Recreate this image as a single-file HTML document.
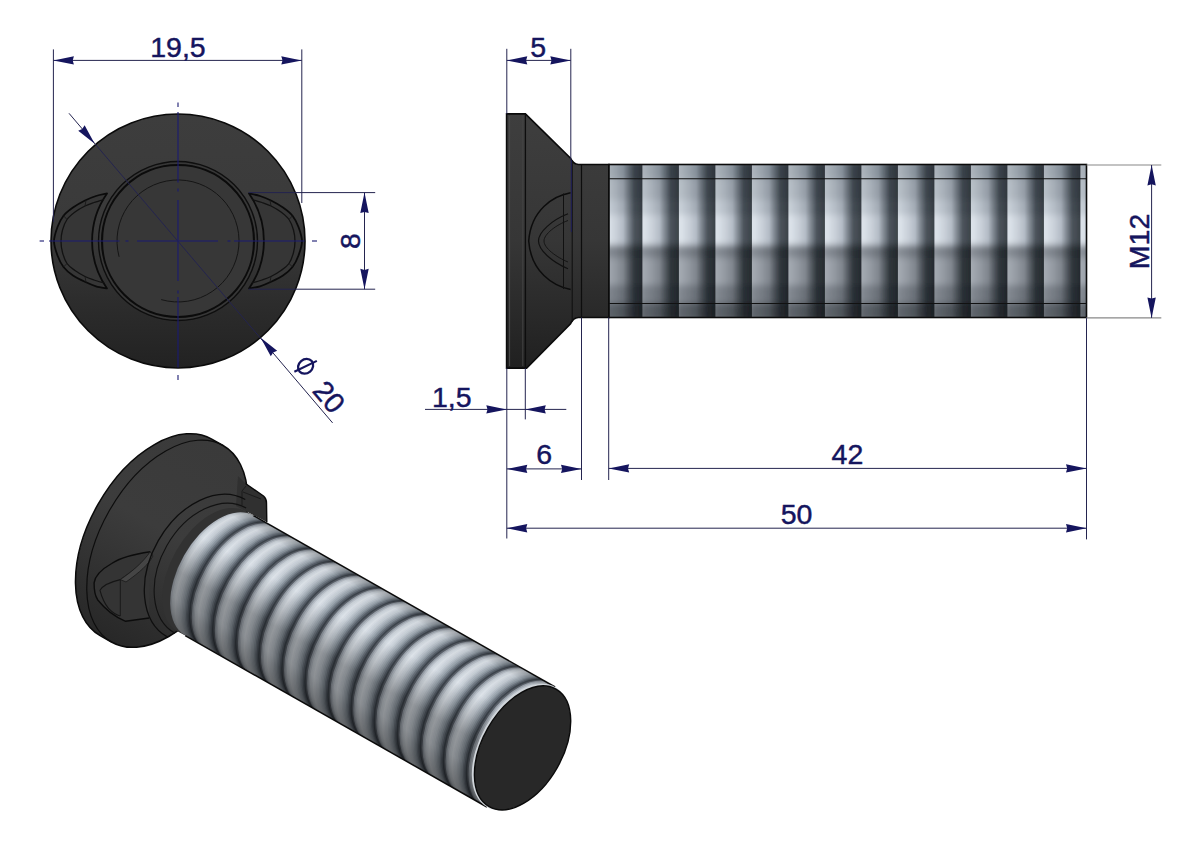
<!DOCTYPE html>
<html><head><meta charset="utf-8"><style>
html,body{margin:0;padding:0;background:#fff;}
svg{display:block;}
text{font-family:"Liberation Sans",sans-serif;}
</style></head><body>
<svg width="1191" height="842" viewBox="0 0 1191 842">
<rect width="1191" height="842" fill="#fff"/>
<defs>
<linearGradient id="headg" x1="0" y1="0" x2="0" y2="1">
 <stop offset="0" stop-color="#3d3d3d"/><stop offset="0.45" stop-color="#3a3a3a"/>
 <stop offset="0.75" stop-color="#2c2c2c"/><stop offset="1" stop-color="#222"/></linearGradient>
<linearGradient id="sideheadg" x1="0" y1="0" x2="0" y2="1">
 <stop offset="0" stop-color="#3e3e3e"/><stop offset="0.5" stop-color="#363636"/>
 <stop offset="1" stop-color="#202020"/></linearGradient>
<linearGradient id="neckg" x1="0" y1="0" x2="0" y2="1">
 <stop offset="0" stop-color="#3c3c3c"/><stop offset="0.55" stop-color="#3a3a3a"/>
 <stop offset="1" stop-color="#1e1e1e"/></linearGradient>
</defs>
<circle cx="178" cy="241" r="127" fill="url(#headg)" stroke="#0a0a0a" stroke-width="1.6"/>
<path d="M107.00,193.50 C105.17,193.92 99.67,194.83 96.00,196.00 C92.33,197.17 88.83,198.58 85.00,200.50 C81.17,202.42 76.58,204.97 73.00,207.50 C69.42,210.03 66.08,212.45 63.50,215.70 C60.92,218.95 59.08,222.73 57.50,227.00 C55.92,231.27 54.00,236.55 54.00,241.30 C54.00,246.05 55.92,251.22 57.50,255.50 C59.08,259.78 60.92,263.67 63.50,267.00 C66.08,270.33 69.25,272.95 73.00,275.50 C76.75,278.05 82.17,280.50 86.00,282.30 C89.83,284.10 92.50,285.28 96.00,286.30 C99.50,287.32 105.17,288.05 107.00,288.40 A83,83 0 0,1 107.00,193.50 Z" fill="#363636" stroke="#0b0b0b" stroke-width="1.8" stroke-linejoin="round"/>
<path d="M104.00,199.50 C102.33,200.00 97.17,201.42 94.00,202.50 C90.83,203.58 88.17,204.42 85.00,206.00 C81.83,207.58 78.00,209.75 75.00,212.00 C72.00,214.25 69.08,216.50 67.00,219.50 C64.92,222.50 63.50,226.37 62.50,230.00 C61.50,233.63 61.00,237.55 61.00,241.30 C61.00,245.05 61.50,248.80 62.50,252.50 C63.50,256.20 64.92,260.50 67.00,263.50 C69.08,266.50 72.00,268.33 75.00,270.50 C78.00,272.67 81.83,274.92 85.00,276.50 C88.17,278.08 90.83,278.92 94.00,280.00 C97.17,281.08 102.33,282.50 104.00,283.00" fill="none" stroke="#121212" stroke-width="1.3"/>
<line x1="86.00" y1="200.30" x2="85.00" y2="206.00" stroke="#1a1a1a" stroke-width="0.9"/>
<line x1="63.50" y1="215.70" x2="67.00" y2="219.50" stroke="#1a1a1a" stroke-width="0.9"/>
<line x1="63.50" y1="267.00" x2="67.00" y2="263.50" stroke="#1a1a1a" stroke-width="0.9"/>
<line x1="86.00" y1="282.30" x2="85.00" y2="276.50" stroke="#1a1a1a" stroke-width="0.9"/>
<path d="M249.00,193.50 C250.83,193.92 256.33,194.83 260.00,196.00 C263.67,197.17 267.17,198.58 271.00,200.50 C274.83,202.42 279.42,204.97 283.00,207.50 C286.58,210.03 289.92,212.45 292.50,215.70 C295.08,218.95 296.92,222.73 298.50,227.00 C300.08,231.27 302.00,236.55 302.00,241.30 C302.00,246.05 300.08,251.22 298.50,255.50 C296.92,259.78 295.08,263.67 292.50,267.00 C289.92,270.33 286.75,272.95 283.00,275.50 C279.25,278.05 273.83,280.50 270.00,282.30 C266.17,284.10 263.50,285.28 260.00,286.30 C256.50,287.32 250.83,288.05 249.00,288.40 A83,83 0 0,0 249.00,193.50 Z" fill="#363636" stroke="#0b0b0b" stroke-width="1.8" stroke-linejoin="round"/>
<path d="M252.00,199.50 C253.67,200.00 258.83,201.42 262.00,202.50 C265.17,203.58 267.83,204.42 271.00,206.00 C274.17,207.58 278.00,209.75 281.00,212.00 C284.00,214.25 286.92,216.50 289.00,219.50 C291.08,222.50 292.50,226.37 293.50,230.00 C294.50,233.63 295.00,237.55 295.00,241.30 C295.00,245.05 294.50,248.80 293.50,252.50 C292.50,256.20 291.08,260.50 289.00,263.50 C286.92,266.50 284.00,268.33 281.00,270.50 C278.00,272.67 274.17,274.92 271.00,276.50 C267.83,278.08 265.17,278.92 262.00,280.00 C258.83,281.08 253.67,282.50 252.00,283.00" fill="none" stroke="#121212" stroke-width="1.3"/>
<line x1="270.00" y1="200.30" x2="271.00" y2="206.00" stroke="#1a1a1a" stroke-width="0.9"/>
<line x1="292.50" y1="215.70" x2="289.00" y2="219.50" stroke="#1a1a1a" stroke-width="0.9"/>
<line x1="292.50" y1="267.00" x2="289.00" y2="263.50" stroke="#1a1a1a" stroke-width="0.9"/>
<line x1="270.00" y1="282.30" x2="271.00" y2="276.50" stroke="#1a1a1a" stroke-width="0.9"/>
<circle cx="178" cy="241" r="79.5" fill="#373737" stroke="#0e0e0e" stroke-width="1.4"/>
<circle cx="178" cy="241" r="76" fill="none" stroke="#0b0b0b" stroke-width="2.1"/>
<path d="M119.1,256.8 A61,61 0 1,1 161.2,299.6" fill="none" stroke="#151515" stroke-width="1"/>
<line x1="39.60" y1="241.00" x2="44.00" y2="241.00" stroke="#1b1b72" stroke-width="1.10" />
<line x1="178.00" y1="102.60" x2="178.00" y2="107.00" stroke="#1b1b72" stroke-width="1.10" />
<line x1="49.00" y1="241.00" x2="119.50" y2="241.00" stroke="#1b1b72" stroke-width="1.10" />
<line x1="178.00" y1="112.00" x2="178.00" y2="182.50" stroke="#1b1b72" stroke-width="1.10" />
<line x1="125.50" y1="241.00" x2="128.50" y2="241.00" stroke="#1b1b72" stroke-width="1.10" />
<line x1="178.00" y1="188.50" x2="178.00" y2="191.50" stroke="#1b1b72" stroke-width="1.10" />
<line x1="137.00" y1="241.00" x2="218.00" y2="241.00" stroke="#1b1b72" stroke-width="1.10" />
<line x1="178.00" y1="200.00" x2="178.00" y2="281.00" stroke="#1b1b72" stroke-width="1.10" />
<line x1="227.50" y1="241.00" x2="230.50" y2="241.00" stroke="#1b1b72" stroke-width="1.10" />
<line x1="178.00" y1="290.50" x2="178.00" y2="293.50" stroke="#1b1b72" stroke-width="1.10" />
<line x1="234.00" y1="241.00" x2="304.50" y2="241.00" stroke="#1b1b72" stroke-width="1.10" />
<line x1="178.00" y1="297.00" x2="178.00" y2="367.50" stroke="#1b1b72" stroke-width="1.10" />
<line x1="312.00" y1="241.00" x2="317.00" y2="241.00" stroke="#1b1b72" stroke-width="1.10" />
<line x1="178.00" y1="375.00" x2="178.00" y2="380.00" stroke="#1b1b72" stroke-width="1.10" />
<line x1="53.40" y1="49.40" x2="53.40" y2="222.00" stroke="#24244f" stroke-width="1.00" />
<line x1="301.80" y1="49.40" x2="301.80" y2="203.00" stroke="#24244f" stroke-width="1.00" />
<line x1="53.40" y1="60.40" x2="301.80" y2="60.40" stroke="#24244f" stroke-width="1.00" />
<polygon points="53.40,60.40 73.90,56.20 72.70,60.40 73.90,64.60" fill="#15155e"/>
<polygon points="301.80,60.40 281.30,64.60 282.50,60.40 281.30,56.20" fill="#15155e"/>
<text x="178.00" y="56.50" font-size="28.5" text-anchor="middle" fill="#15155e" stroke="#15155e" stroke-width="0.45">19,5</text>
<line x1="248.70" y1="192.60" x2="375.20" y2="192.60" stroke="#24244f" stroke-width="1.00" />
<line x1="248.70" y1="289.20" x2="375.20" y2="289.20" stroke="#24244f" stroke-width="1.00" />
<line x1="364.50" y1="192.60" x2="364.50" y2="289.20" stroke="#24244f" stroke-width="1.00" />
<polygon points="364.50,192.60 368.70,213.10 364.50,211.90 360.30,213.10" fill="#15155e"/>
<polygon points="364.50,289.20 360.30,268.70 364.50,269.90 368.70,268.70" fill="#15155e"/>
<text x="359.60" y="241.00" font-size="28.5" text-anchor="middle" fill="#15155e" stroke="#15155e" stroke-width="0.45" transform="rotate(-90.00 359.60 241.00)">8</text>
<line x1="69.00" y1="113.30" x2="332.60" y2="422.90" stroke="#24244f" stroke-width="1.00" />
<polygon points="94.70,143.70 78.22,130.81 82.19,129.00 84.61,125.37" fill="#15155e"/>
<polygon points="260.70,337.80 277.18,350.69 273.21,352.50 270.79,356.13" fill="#15155e"/>
<path d="M506.6,113.9 L525.4,113.9 L570.3,157.9 Q573.5,164.5 578.4,164.5 L609,164.5 L609,317.5 L578.4,317.5 Q573.5,317.5 570.3,324.1 L526.6,368.1 L506.6,368.1 Z" fill="url(#sideheadg)" stroke="#0a0a0a" stroke-width="1.6"/>
<line x1="509.60" y1="116.00" x2="509.60" y2="366.00" stroke="#4a4a4a" stroke-width="1.00" />
<line x1="522.80" y1="116.00" x2="522.80" y2="366.00" stroke="#444444" stroke-width="1.00" />
<line x1="525.40" y1="113.90" x2="525.40" y2="368.10" stroke="#0d0d0d" stroke-width="1.30" />
<line x1="572.20" y1="160.00" x2="572.20" y2="322.00" stroke="#111" stroke-width="1.10" />
<line x1="581.50" y1="164.50" x2="581.50" y2="317.50" stroke="#0d0d0d" stroke-width="1.20" />
<path d="M570.6,192.8 C553,196 531,210 528.7,241 C531,272 553,286 570.6,289.6" fill="none" stroke="#0c0c0c" stroke-width="1.5"/>
<path d="M568,213.8 C552,220 538.5,232 538.5,241 C538.5,250 552,262 568,268.7" fill="none" stroke="#111" stroke-width="1.2"/>
<path d="M568,220.5 C556,225 544,234 544,241 C544,248 556,257 568,262" fill="none" stroke="#151515" stroke-width="1"/>
<line x1="563.50" y1="193.50" x2="563.50" y2="289.00" stroke="#111" stroke-width="1.00" />
<defs>
<linearGradient id="tprof" x1="0" y1="0" x2="1" y2="0">
 <stop offset="0" stop-color="#cdd4dc"/><stop offset="0.25" stop-color="#c2c9d1"/>
 <stop offset="0.55" stop-color="#8c96a2"/><stop offset="0.8" stop-color="#4a525c"/>
 <stop offset="1" stop-color="#262c33"/></linearGradient>
<pattern id="tpat" patternUnits="userSpaceOnUse" x="605.9" y="0" width="36.5" height="842">
 <rect x="0" y="0" width="36.5" height="842" fill="url(#tprof)"/></pattern>
<linearGradient id="tvert" x1="0" y1="0" x2="0" y2="1">
 <stop offset="0" stop-color="#b0b0b0"/><stop offset="0.09" stop-color="#c8c8c8"/>
 <stop offset="0.3" stop-color="#d8d8d8"/><stop offset="0.33" stop-color="#f4f4f4"/>
 <stop offset="0.52" stop-color="#ffffff"/><stop offset="0.54" stop-color="#8a8a8a"/>
 <stop offset="0.75" stop-color="#909090"/><stop offset="0.9" stop-color="#6a6a6a"/><stop offset="1" stop-color="#555"/></linearGradient>
</defs>
<defs>
<linearGradient id="tz0" x1="0" y1="0" x2="1" y2="0"><stop offset="0.00" stop-color="rgb(173,180,188)"/><stop offset="0.08" stop-color="rgb(168,176,184)"/><stop offset="0.30" stop-color="rgb(151,160,169)"/><stop offset="0.47" stop-color="rgb(134,144,154)"/><stop offset="0.62" stop-color="rgb(96,105,114)"/><stop offset="0.78" stop-color="rgb(58,66,74)"/><stop offset="1.00" stop-color="rgb(46,52,59)"/></linearGradient>
<pattern id="tp0" patternUnits="userSpaceOnUse" x="605.9" y="0" width="36.5" height="842"><rect width="36.5" height="842" fill="url(#tz0)"/></pattern>
<linearGradient id="tz1" x1="0" y1="0" x2="1" y2="0"><stop offset="0.00" stop-color="rgb(184,192,199)"/><stop offset="0.08" stop-color="rgb(180,188,196)"/><stop offset="0.30" stop-color="rgb(164,172,181)"/><stop offset="0.47" stop-color="rgb(148,156,166)"/><stop offset="0.62" stop-color="rgb(105,113,122)"/><stop offset="0.78" stop-color="rgb(62,70,78)"/><stop offset="1.00" stop-color="rgb(49,56,62)"/></linearGradient>
<pattern id="tp1" patternUnits="userSpaceOnUse" x="605.9" y="0" width="36.5" height="842"><rect width="36.5" height="842" fill="url(#tz1)"/></pattern>
<linearGradient id="tz2" x1="0" y1="0" x2="1" y2="0"><stop offset="0.00" stop-color="rgb(199,207,214)"/><stop offset="0.08" stop-color="rgb(196,204,212)"/><stop offset="0.30" stop-color="rgb(179,187,196)"/><stop offset="0.47" stop-color="rgb(162,170,180)"/><stop offset="0.62" stop-color="rgb(115,123,132)"/><stop offset="0.78" stop-color="rgb(68,76,84)"/><stop offset="1.00" stop-color="rgb(54,60,67)"/></linearGradient>
<pattern id="tp2" patternUnits="userSpaceOnUse" x="605.9" y="0" width="36.5" height="842"><rect width="36.5" height="842" fill="url(#tz2)"/></pattern>
<linearGradient id="tz3" x1="0" y1="0" x2="1" y2="0"><stop offset="0.00" stop-color="rgb(220,226,233)"/><stop offset="0.08" stop-color="rgb(218,225,232)"/><stop offset="0.30" stop-color="rgb(199,206,215)"/><stop offset="0.47" stop-color="rgb(180,188,198)"/><stop offset="0.62" stop-color="rgb(128,136,145)"/><stop offset="0.78" stop-color="rgb(76,84,92)"/><stop offset="1.00" stop-color="rgb(60,67,73)"/></linearGradient>
<pattern id="tp3" patternUnits="userSpaceOnUse" x="605.9" y="0" width="36.5" height="842"><rect width="36.5" height="842" fill="url(#tz3)"/></pattern>
<linearGradient id="tz4" x1="0" y1="0" x2="1" y2="0"><stop offset="0.00" stop-color="rgb(141,146,154)"/><stop offset="0.08" stop-color="rgb(134,140,148)"/><stop offset="0.30" stop-color="rgb(121,127,135)"/><stop offset="0.47" stop-color="rgb(108,114,122)"/><stop offset="0.62" stop-color="rgb(76,82,89)"/><stop offset="0.78" stop-color="rgb(44,50,56)"/><stop offset="1.00" stop-color="rgb(35,40,44)"/></linearGradient>
<pattern id="tp4" patternUnits="userSpaceOnUse" x="605.9" y="0" width="36.5" height="842"><rect width="36.5" height="842" fill="url(#tz4)"/></pattern>
<linearGradient id="tz5" x1="0" y1="0" x2="1" y2="0"><stop offset="0.00" stop-color="rgb(165,171,178)"/><stop offset="0.08" stop-color="rgb(160,166,174)"/><stop offset="0.30" stop-color="rgb(144,150,158)"/><stop offset="0.47" stop-color="rgb(128,134,142)"/><stop offset="0.62" stop-color="rgb(88,94,101)"/><stop offset="0.78" stop-color="rgb(48,54,60)"/><stop offset="1.00" stop-color="rgb(38,43,48)"/></linearGradient>
<pattern id="tp5" patternUnits="userSpaceOnUse" x="605.9" y="0" width="36.5" height="842"><rect width="36.5" height="842" fill="url(#tz5)"/></pattern>
<linearGradient id="tz6" x1="0" y1="0" x2="1" y2="0"><stop offset="0.00" stop-color="rgb(135,141,148)"/><stop offset="0.08" stop-color="rgb(128,134,142)"/><stop offset="0.30" stop-color="rgb(116,122,130)"/><stop offset="0.47" stop-color="rgb(104,110,118)"/><stop offset="0.62" stop-color="rgb(73,79,86)"/><stop offset="0.78" stop-color="rgb(42,48,54)"/><stop offset="1.00" stop-color="rgb(33,38,43)"/></linearGradient>
<pattern id="tp6" patternUnits="userSpaceOnUse" x="605.9" y="0" width="36.5" height="842"><rect width="36.5" height="842" fill="url(#tz6)"/></pattern>
<linearGradient id="tz7" x1="0" y1="0" x2="1" y2="0"><stop offset="0.00" stop-color="rgb(103,109,115)"/><stop offset="0.08" stop-color="rgb(94,100,107)"/><stop offset="0.30" stop-color="rgb(85,91,97)"/><stop offset="0.47" stop-color="rgb(76,82,88)"/><stop offset="0.62" stop-color="rgb(56,61,66)"/><stop offset="0.78" stop-color="rgb(36,40,45)"/><stop offset="1.00" stop-color="rgb(28,32,36)"/></linearGradient>
<pattern id="tp7" patternUnits="userSpaceOnUse" x="605.9" y="0" width="36.5" height="842"><rect width="36.5" height="842" fill="url(#tz7)"/></pattern>
<filter id="vblur" x="-5%" y="-20%" width="110%" height="140%"><feGaussianBlur stdDeviation="0.6 3.2"/></filter>
<clipPath id="tclip"><rect x="609" y="164.5" width="477.5" height="153"/></clipPath>
</defs>
<g clip-path="url(#tclip)"><g filter="url(#vblur)">
<rect x="600" y="160.0" width="495" height="19.2" fill="url(#tp0)"/>
<rect x="600" y="178.7" width="495" height="21.8" fill="url(#tp1)"/>
<rect x="600" y="200.0" width="495" height="15.5" fill="url(#tp2)"/>
<rect x="600" y="215.0" width="495" height="30.5" fill="url(#tp3)"/>
<rect x="600" y="245.0" width="495" height="13.5" fill="url(#tp4)"/>
<rect x="600" y="258.0" width="495" height="27.5" fill="url(#tp5)"/>
<rect x="600" y="285.0" width="495" height="19.0" fill="url(#tp6)"/>
<rect x="600" y="303.5" width="495" height="19.0" fill="url(#tp7)"/>
</g></g>
<rect x="609" y="164.5" width="477.5" height="153" fill="none" stroke="#0a0a0a" stroke-width="1.6"/>
<line x1="609.00" y1="178.70" x2="1086.50" y2="178.70" stroke="#111" stroke-width="1.10" />
<line x1="609.00" y1="303.50" x2="1086.50" y2="303.50" stroke="#111" stroke-width="1.10" />
<line x1="506.80" y1="48.80" x2="506.80" y2="113.90" stroke="#24244f" stroke-width="1.00" />
<line x1="570.80" y1="48.80" x2="570.80" y2="160.00" stroke="#24244f" stroke-width="1.00" />
<line x1="571.30" y1="160.00" x2="571.30" y2="232.00" stroke="#1c1c5a" stroke-width="1.00" />
<line x1="506.80" y1="368.10" x2="506.80" y2="538.50" stroke="#24244f" stroke-width="1.00" />
<line x1="525.30" y1="368.10" x2="525.30" y2="419.40" stroke="#24244f" stroke-width="1.00" />
<line x1="581.50" y1="317.50" x2="581.50" y2="480.00" stroke="#24244f" stroke-width="1.00" />
<line x1="608.70" y1="317.50" x2="608.70" y2="480.00" stroke="#24244f" stroke-width="1.00" />
<line x1="1086.50" y1="317.50" x2="1086.50" y2="539.40" stroke="#24244f" stroke-width="1.00" />
<line x1="1086.50" y1="165.00" x2="1161.30" y2="165.00" stroke="#888" stroke-width="1.20" />
<line x1="1086.50" y1="317.90" x2="1161.30" y2="317.90" stroke="#888" stroke-width="1.20" />
<line x1="506.80" y1="60.40" x2="570.80" y2="60.40" stroke="#24244f" stroke-width="1.00" />
<polygon points="506.80,60.40 527.30,56.20 526.10,60.40 527.30,64.60" fill="#15155e"/>
<polygon points="570.80,60.40 550.30,64.60 551.50,60.40 550.30,56.20" fill="#15155e"/>
<text x="538.30" y="56.50" font-size="28.5" text-anchor="middle" fill="#15155e" stroke="#15155e" stroke-width="0.45">5</text>
<line x1="425.00" y1="409.40" x2="566.30" y2="409.40" stroke="#24244f" stroke-width="1.00" />
<polygon points="506.80,409.40 486.30,413.60 487.50,409.40 486.30,405.20" fill="#15155e"/>
<polygon points="525.30,409.40 545.80,405.20 544.60,409.40 545.80,413.60" fill="#15155e"/>
<text x="451.70" y="407.30" font-size="28.5" text-anchor="middle" fill="#15155e" stroke="#15155e" stroke-width="0.45">1,5</text>
<line x1="506.80" y1="468.90" x2="581.50" y2="468.90" stroke="#24244f" stroke-width="1.00" />
<polygon points="506.80,468.90 527.30,464.70 526.10,468.90 527.30,473.10" fill="#15155e"/>
<polygon points="581.50,468.90 561.00,473.10 562.20,468.90 561.00,464.70" fill="#15155e"/>
<text x="544.10" y="463.80" font-size="28.5" text-anchor="middle" fill="#15155e" stroke="#15155e" stroke-width="0.45">6</text>
<line x1="608.70" y1="468.40" x2="1086.50" y2="468.40" stroke="#24244f" stroke-width="1.00" />
<polygon points="608.70,468.40 629.20,464.20 628.00,468.40 629.20,472.60" fill="#15155e"/>
<polygon points="1086.50,468.40 1066.00,472.60 1067.20,468.40 1066.00,464.20" fill="#15155e"/>
<text x="847.40" y="464.40" font-size="28.5" text-anchor="middle" fill="#15155e" stroke="#15155e" stroke-width="0.45">42</text>
<line x1="506.80" y1="528.20" x2="1086.50" y2="528.20" stroke="#24244f" stroke-width="1.00" />
<polygon points="506.80,528.20 527.30,524.00 526.10,528.20 527.30,532.40" fill="#15155e"/>
<polygon points="1086.50,528.20 1066.00,532.40 1067.20,528.20 1066.00,524.00" fill="#15155e"/>
<text x="796.60" y="523.70" font-size="28.5" text-anchor="middle" fill="#15155e" stroke="#15155e" stroke-width="0.45">50</text>
<line x1="1151.60" y1="165.00" x2="1151.60" y2="317.90" stroke="#24244f" stroke-width="1.00" />
<polygon points="1151.60,165.00 1155.80,185.50 1151.60,184.30 1147.40,185.50" fill="#15155e"/>
<polygon points="1151.60,317.90 1147.40,297.40 1151.60,298.60 1155.80,297.40" fill="#15155e"/>
<text x="1148.90" y="241.40" font-size="28.5" text-anchor="middle" fill="#15155e" stroke="#15155e" stroke-width="0.45" transform="rotate(-90.00 1148.90 241.40)">M12</text>
<g transform="translate(305.6,366.3) rotate(49.6)"><ellipse cx="0" cy="0" rx="6.9" ry="8" fill="none" stroke="#15155e" stroke-width="2.3"/><line x1="-3.11" y1="12.11" x2="3.11" y2="-12.11" stroke="#15155e" stroke-width="2.1"/></g>
<text x="321.50" y="403.38" font-size="28.5" text-anchor="middle" fill="#15155e" stroke="#15155e" stroke-width="0.45" transform="rotate(49.60 321.50 403.38)">20</text>
<g transform="translate(521,747) rotate(29.60)">
<defs>
<linearGradient id="isohead" gradientUnits="userSpaceOnUse" x1="0" y1="-115" x2="0" y2="115">
 <stop offset="0" stop-color="#3a3a3a"/><stop offset="0.45" stop-color="#3c3c3c"/><stop offset="1" stop-color="#272727"/></linearGradient>
<linearGradient id="isovert" gradientUnits="userSpaceOnUse" x1="0" y1="-69" x2="0" y2="69">
 <stop offset="0" stop-color="#b8b8b8"/><stop offset="0.08" stop-color="#f4f4f4"/>
 <stop offset="0.32" stop-color="#ffffff"/><stop offset="0.48" stop-color="#d8d8d8"/>
 <stop offset="0.62" stop-color="#acacac"/><stop offset="0.8" stop-color="#a2a2a2"/><stop offset="1" stop-color="#747474"/></linearGradient>
<clipPath id="thclip"><path d="M0,-69 L-347.00,-69 A40.71,69 0 0,0 -347.00,69 L0,69 Z"/></clipPath>
</defs>
<path d="M-421.00,-115.00 A66.67,113.00 0 0,0 -421.00,111.00 L-408.00,111.00 A66.67,113.00 0 0,0 -408.00,-115.00 Z" fill="url(#isohead)" stroke="#0a0a0a" stroke-width="1.5"/>
<path d="M-408.00,-115.00 A66.67,113.00 0 0,0 -408.00,111.00" fill="none" stroke="#0d0d0d" stroke-width="1.2"/>
</g>
<path d="M238,476 L245.5,483.5 L263.5,496 Q266.5,498.5 266.5,503 L266.8,522 L236,506 Z" fill="#303030" stroke="none"/>
<path d="M245.5,483.5 L263.5,496 Q266.5,498.5 266.5,503 L266.8,522" fill="none" stroke="#0a0a0a" stroke-width="1.4" stroke-linejoin="round"/>
<path d="M242,491 L242,505 M242,491 L246,486 M243,492 L261,499" fill="none" stroke="#1a1a1a" stroke-width="0.9"/>
<path d="M150.2,551.8 C135,554 120,558 111.7,563.5 C102,569 95,576 94.1,582.8 C94,590 95,596 97.8,600 C105,609 115,617 125.6,621.3 L149.2,618" fill="#343434" stroke="#0c0c0c" stroke-width="1.4"/>
<path d="M150.2,551.8 C147,560 135,570 120.3,579.6 C110,582 103,585 100,590.3 C102,598 105,604 108.5,608.4 C112,612 116,615 120.3,616" fill="none" stroke="#151515" stroke-width="1.1"/>
<path d="M150.2,551.8 L153,556 C148,565 140,572 126,582 L120.3,579.6 C133,571 143,562 150.2,551.8Z" fill="#454545" stroke="#1a1a1a" stroke-width="0.8"/>
<line x1="120.3" y1="579.6" x2="120.3" y2="616" stroke="#1a1a1a" stroke-width="1"/>
<g transform="translate(521,747) rotate(29.60)">
<path d="M-362.00,-79.00 A55.30,79.00 0 0,0 -362.00,79.00" fill="none" stroke="#0e0e0e" stroke-width="1.3"/>
<path d="M-357.00,-72.00 A50.40,72.00 0 0,0 -357.00,72.00" fill="none" stroke="#121212" stroke-width="1.1"/>
<path d="M-356.00,-69 A40.71,69 0 0,0 -356.00,69 L-347.00,69 L-347.00,-69 Z" fill="#323232" stroke="none"/>
<g clip-path="url(#thclip)">
<rect x="-420" y="-70" width="420" height="140" fill="#8a939c"/>
<path d="M-371.64,-70 A40.71,70 0 0,0 -371.64,70" fill="none" stroke="rgb(184,191,200)" stroke-width="2.56"/>
<path d="M-369.98,-70 A40.71,70 0 0,0 -369.98,70" fill="none" stroke="rgb(206,213,220)" stroke-width="2.56"/>
<path d="M-368.32,-70 A40.71,70 0 0,0 -368.32,70" fill="none" stroke="rgb(213,220,227)" stroke-width="2.56"/>
<path d="M-366.66,-70 A40.71,70 0 0,0 -366.66,70" fill="none" stroke="rgb(221,227,233)" stroke-width="2.56"/>
<path d="M-365.01,-70 A40.71,70 0 0,0 -365.01,70" fill="none" stroke="rgb(215,221,228)" stroke-width="2.56"/>
<path d="M-363.35,-70 A40.71,70 0 0,0 -363.35,70" fill="none" stroke="rgb(207,214,222)" stroke-width="2.56"/>
<path d="M-361.69,-70 A40.71,70 0 0,0 -361.69,70" fill="none" stroke="rgb(200,208,215)" stroke-width="2.56"/>
<path d="M-360.03,-70 A40.71,70 0 0,0 -360.03,70" fill="none" stroke="rgb(187,195,204)" stroke-width="2.56"/>
<path d="M-358.37,-70 A40.71,70 0 0,0 -358.37,70" fill="none" stroke="rgb(172,181,190)" stroke-width="2.56"/>
<path d="M-356.72,-70 A40.71,70 0 0,0 -356.72,70" fill="none" stroke="rgb(157,167,176)" stroke-width="2.56"/>
<path d="M-355.06,-70 A40.71,70 0 0,0 -355.06,70" fill="none" stroke="rgb(137,147,157)" stroke-width="2.56"/>
<path d="M-353.40,-70 A40.71,70 0 0,0 -353.40,70" fill="none" stroke="rgb(112,121,131)" stroke-width="2.56"/>
<path d="M-351.74,-70 A40.71,70 0 0,0 -351.74,70" fill="none" stroke="rgb(87,95,105)" stroke-width="2.56"/>
<path d="M-350.08,-70 A40.71,70 0 0,0 -350.08,70" fill="none" stroke="rgb(62,69,77)" stroke-width="2.56"/>
<path d="M-348.43,-70 A40.71,70 0 0,0 -348.43,70" fill="none" stroke="rgb(89,95,104)" stroke-width="2.56"/>
<path d="M-346.77,-70 A40.71,70 0 0,0 -346.77,70" fill="none" stroke="rgb(156,164,173)" stroke-width="2.56"/>
<path d="M-345.11,-70 A40.71,70 0 0,0 -345.11,70" fill="none" stroke="rgb(184,191,200)" stroke-width="2.56"/>
<path d="M-343.45,-70 A40.71,70 0 0,0 -343.45,70" fill="none" stroke="rgb(206,213,220)" stroke-width="2.56"/>
<path d="M-341.79,-70 A40.71,70 0 0,0 -341.79,70" fill="none" stroke="rgb(213,220,227)" stroke-width="2.56"/>
<path d="M-340.14,-70 A40.71,70 0 0,0 -340.14,70" fill="none" stroke="rgb(221,227,233)" stroke-width="2.56"/>
<path d="M-338.48,-70 A40.71,70 0 0,0 -338.48,70" fill="none" stroke="rgb(215,221,228)" stroke-width="2.56"/>
<path d="M-336.82,-70 A40.71,70 0 0,0 -336.82,70" fill="none" stroke="rgb(207,214,222)" stroke-width="2.56"/>
<path d="M-335.16,-70 A40.71,70 0 0,0 -335.16,70" fill="none" stroke="rgb(200,208,215)" stroke-width="2.56"/>
<path d="M-333.50,-70 A40.71,70 0 0,0 -333.50,70" fill="none" stroke="rgb(187,195,204)" stroke-width="2.56"/>
<path d="M-331.85,-70 A40.71,70 0 0,0 -331.85,70" fill="none" stroke="rgb(172,181,190)" stroke-width="2.56"/>
<path d="M-330.19,-70 A40.71,70 0 0,0 -330.19,70" fill="none" stroke="rgb(157,167,176)" stroke-width="2.56"/>
<path d="M-328.53,-70 A40.71,70 0 0,0 -328.53,70" fill="none" stroke="rgb(137,147,157)" stroke-width="2.56"/>
<path d="M-326.87,-70 A40.71,70 0 0,0 -326.87,70" fill="none" stroke="rgb(112,121,131)" stroke-width="2.56"/>
<path d="M-325.21,-70 A40.71,70 0 0,0 -325.21,70" fill="none" stroke="rgb(87,95,105)" stroke-width="2.56"/>
<path d="M-323.55,-70 A40.71,70 0 0,0 -323.55,70" fill="none" stroke="rgb(62,69,77)" stroke-width="2.56"/>
<path d="M-321.90,-70 A40.71,70 0 0,0 -321.90,70" fill="none" stroke="rgb(89,95,104)" stroke-width="2.56"/>
<path d="M-320.24,-70 A40.71,70 0 0,0 -320.24,70" fill="none" stroke="rgb(156,164,173)" stroke-width="2.56"/>
<path d="M-318.58,-70 A40.71,70 0 0,0 -318.58,70" fill="none" stroke="rgb(184,191,200)" stroke-width="2.56"/>
<path d="M-316.92,-70 A40.71,70 0 0,0 -316.92,70" fill="none" stroke="rgb(206,213,220)" stroke-width="2.56"/>
<path d="M-315.26,-70 A40.71,70 0 0,0 -315.26,70" fill="none" stroke="rgb(213,220,227)" stroke-width="2.56"/>
<path d="M-313.61,-70 A40.71,70 0 0,0 -313.61,70" fill="none" stroke="rgb(221,227,233)" stroke-width="2.56"/>
<path d="M-311.95,-70 A40.71,70 0 0,0 -311.95,70" fill="none" stroke="rgb(215,221,228)" stroke-width="2.56"/>
<path d="M-310.29,-70 A40.71,70 0 0,0 -310.29,70" fill="none" stroke="rgb(207,214,222)" stroke-width="2.56"/>
<path d="M-308.63,-70 A40.71,70 0 0,0 -308.63,70" fill="none" stroke="rgb(200,208,215)" stroke-width="2.56"/>
<path d="M-306.97,-70 A40.71,70 0 0,0 -306.97,70" fill="none" stroke="rgb(187,195,204)" stroke-width="2.56"/>
<path d="M-305.32,-70 A40.71,70 0 0,0 -305.32,70" fill="none" stroke="rgb(172,181,190)" stroke-width="2.56"/>
<path d="M-303.66,-70 A40.71,70 0 0,0 -303.66,70" fill="none" stroke="rgb(157,167,176)" stroke-width="2.56"/>
<path d="M-302.00,-70 A40.71,70 0 0,0 -302.00,70" fill="none" stroke="rgb(137,147,157)" stroke-width="2.56"/>
<path d="M-300.34,-70 A40.71,70 0 0,0 -300.34,70" fill="none" stroke="rgb(112,121,131)" stroke-width="2.56"/>
<path d="M-298.68,-70 A40.71,70 0 0,0 -298.68,70" fill="none" stroke="rgb(87,95,105)" stroke-width="2.56"/>
<path d="M-297.03,-70 A40.71,70 0 0,0 -297.03,70" fill="none" stroke="rgb(62,69,77)" stroke-width="2.56"/>
<path d="M-295.37,-70 A40.71,70 0 0,0 -295.37,70" fill="none" stroke="rgb(89,95,104)" stroke-width="2.56"/>
<path d="M-293.71,-70 A40.71,70 0 0,0 -293.71,70" fill="none" stroke="rgb(156,164,173)" stroke-width="2.56"/>
<path d="M-292.05,-70 A40.71,70 0 0,0 -292.05,70" fill="none" stroke="rgb(184,191,200)" stroke-width="2.56"/>
<path d="M-290.39,-70 A40.71,70 0 0,0 -290.39,70" fill="none" stroke="rgb(206,213,220)" stroke-width="2.56"/>
<path d="M-288.74,-70 A40.71,70 0 0,0 -288.74,70" fill="none" stroke="rgb(213,220,227)" stroke-width="2.56"/>
<path d="M-287.08,-70 A40.71,70 0 0,0 -287.08,70" fill="none" stroke="rgb(221,227,233)" stroke-width="2.56"/>
<path d="M-285.42,-70 A40.71,70 0 0,0 -285.42,70" fill="none" stroke="rgb(215,221,228)" stroke-width="2.56"/>
<path d="M-283.76,-70 A40.71,70 0 0,0 -283.76,70" fill="none" stroke="rgb(207,214,222)" stroke-width="2.56"/>
<path d="M-282.10,-70 A40.71,70 0 0,0 -282.10,70" fill="none" stroke="rgb(200,208,215)" stroke-width="2.56"/>
<path d="M-280.45,-70 A40.71,70 0 0,0 -280.45,70" fill="none" stroke="rgb(187,195,204)" stroke-width="2.56"/>
<path d="M-278.79,-70 A40.71,70 0 0,0 -278.79,70" fill="none" stroke="rgb(172,181,190)" stroke-width="2.56"/>
<path d="M-277.13,-70 A40.71,70 0 0,0 -277.13,70" fill="none" stroke="rgb(157,167,176)" stroke-width="2.56"/>
<path d="M-275.47,-70 A40.71,70 0 0,0 -275.47,70" fill="none" stroke="rgb(137,147,157)" stroke-width="2.56"/>
<path d="M-273.81,-70 A40.71,70 0 0,0 -273.81,70" fill="none" stroke="rgb(112,121,131)" stroke-width="2.56"/>
<path d="M-272.15,-70 A40.71,70 0 0,0 -272.15,70" fill="none" stroke="rgb(87,95,105)" stroke-width="2.56"/>
<path d="M-270.50,-70 A40.71,70 0 0,0 -270.50,70" fill="none" stroke="rgb(62,69,77)" stroke-width="2.56"/>
<path d="M-268.84,-70 A40.71,70 0 0,0 -268.84,70" fill="none" stroke="rgb(89,95,104)" stroke-width="2.56"/>
<path d="M-267.18,-70 A40.71,70 0 0,0 -267.18,70" fill="none" stroke="rgb(156,164,173)" stroke-width="2.56"/>
<path d="M-265.52,-70 A40.71,70 0 0,0 -265.52,70" fill="none" stroke="rgb(184,191,200)" stroke-width="2.56"/>
<path d="M-263.86,-70 A40.71,70 0 0,0 -263.86,70" fill="none" stroke="rgb(206,213,220)" stroke-width="2.56"/>
<path d="M-262.21,-70 A40.71,70 0 0,0 -262.21,70" fill="none" stroke="rgb(213,220,227)" stroke-width="2.56"/>
<path d="M-260.55,-70 A40.71,70 0 0,0 -260.55,70" fill="none" stroke="rgb(221,227,233)" stroke-width="2.56"/>
<path d="M-258.89,-70 A40.71,70 0 0,0 -258.89,70" fill="none" stroke="rgb(215,221,228)" stroke-width="2.56"/>
<path d="M-257.23,-70 A40.71,70 0 0,0 -257.23,70" fill="none" stroke="rgb(207,214,222)" stroke-width="2.56"/>
<path d="M-255.57,-70 A40.71,70 0 0,0 -255.57,70" fill="none" stroke="rgb(200,208,215)" stroke-width="2.56"/>
<path d="M-253.92,-70 A40.71,70 0 0,0 -253.92,70" fill="none" stroke="rgb(187,195,204)" stroke-width="2.56"/>
<path d="M-252.26,-70 A40.71,70 0 0,0 -252.26,70" fill="none" stroke="rgb(172,181,190)" stroke-width="2.56"/>
<path d="M-250.60,-70 A40.71,70 0 0,0 -250.60,70" fill="none" stroke="rgb(157,167,176)" stroke-width="2.56"/>
<path d="M-248.94,-70 A40.71,70 0 0,0 -248.94,70" fill="none" stroke="rgb(137,147,157)" stroke-width="2.56"/>
<path d="M-247.28,-70 A40.71,70 0 0,0 -247.28,70" fill="none" stroke="rgb(112,121,131)" stroke-width="2.56"/>
<path d="M-245.63,-70 A40.71,70 0 0,0 -245.63,70" fill="none" stroke="rgb(87,95,105)" stroke-width="2.56"/>
<path d="M-243.97,-70 A40.71,70 0 0,0 -243.97,70" fill="none" stroke="rgb(62,69,77)" stroke-width="2.56"/>
<path d="M-242.31,-70 A40.71,70 0 0,0 -242.31,70" fill="none" stroke="rgb(89,95,104)" stroke-width="2.56"/>
<path d="M-240.65,-70 A40.71,70 0 0,0 -240.65,70" fill="none" stroke="rgb(156,164,173)" stroke-width="2.56"/>
<path d="M-238.99,-70 A40.71,70 0 0,0 -238.99,70" fill="none" stroke="rgb(184,191,200)" stroke-width="2.56"/>
<path d="M-237.34,-70 A40.71,70 0 0,0 -237.34,70" fill="none" stroke="rgb(206,213,220)" stroke-width="2.56"/>
<path d="M-235.68,-70 A40.71,70 0 0,0 -235.68,70" fill="none" stroke="rgb(213,220,227)" stroke-width="2.56"/>
<path d="M-234.02,-70 A40.71,70 0 0,0 -234.02,70" fill="none" stroke="rgb(221,227,233)" stroke-width="2.56"/>
<path d="M-232.36,-70 A40.71,70 0 0,0 -232.36,70" fill="none" stroke="rgb(215,221,228)" stroke-width="2.56"/>
<path d="M-230.70,-70 A40.71,70 0 0,0 -230.70,70" fill="none" stroke="rgb(207,214,222)" stroke-width="2.56"/>
<path d="M-229.05,-70 A40.71,70 0 0,0 -229.05,70" fill="none" stroke="rgb(200,208,215)" stroke-width="2.56"/>
<path d="M-227.39,-70 A40.71,70 0 0,0 -227.39,70" fill="none" stroke="rgb(187,195,204)" stroke-width="2.56"/>
<path d="M-225.73,-70 A40.71,70 0 0,0 -225.73,70" fill="none" stroke="rgb(172,181,190)" stroke-width="2.56"/>
<path d="M-224.07,-70 A40.71,70 0 0,0 -224.07,70" fill="none" stroke="rgb(157,167,176)" stroke-width="2.56"/>
<path d="M-222.41,-70 A40.71,70 0 0,0 -222.41,70" fill="none" stroke="rgb(137,147,157)" stroke-width="2.56"/>
<path d="M-220.75,-70 A40.71,70 0 0,0 -220.75,70" fill="none" stroke="rgb(112,121,131)" stroke-width="2.56"/>
<path d="M-219.10,-70 A40.71,70 0 0,0 -219.10,70" fill="none" stroke="rgb(87,95,105)" stroke-width="2.56"/>
<path d="M-217.44,-70 A40.71,70 0 0,0 -217.44,70" fill="none" stroke="rgb(62,69,77)" stroke-width="2.56"/>
<path d="M-215.78,-70 A40.71,70 0 0,0 -215.78,70" fill="none" stroke="rgb(89,95,104)" stroke-width="2.56"/>
<path d="M-214.12,-70 A40.71,70 0 0,0 -214.12,70" fill="none" stroke="rgb(156,164,173)" stroke-width="2.56"/>
<path d="M-212.46,-70 A40.71,70 0 0,0 -212.46,70" fill="none" stroke="rgb(184,191,200)" stroke-width="2.56"/>
<path d="M-210.81,-70 A40.71,70 0 0,0 -210.81,70" fill="none" stroke="rgb(206,213,220)" stroke-width="2.56"/>
<path d="M-209.15,-70 A40.71,70 0 0,0 -209.15,70" fill="none" stroke="rgb(213,220,227)" stroke-width="2.56"/>
<path d="M-207.49,-70 A40.71,70 0 0,0 -207.49,70" fill="none" stroke="rgb(221,227,233)" stroke-width="2.56"/>
<path d="M-205.83,-70 A40.71,70 0 0,0 -205.83,70" fill="none" stroke="rgb(215,221,228)" stroke-width="2.56"/>
<path d="M-204.17,-70 A40.71,70 0 0,0 -204.17,70" fill="none" stroke="rgb(207,214,222)" stroke-width="2.56"/>
<path d="M-202.52,-70 A40.71,70 0 0,0 -202.52,70" fill="none" stroke="rgb(200,208,215)" stroke-width="2.56"/>
<path d="M-200.86,-70 A40.71,70 0 0,0 -200.86,70" fill="none" stroke="rgb(187,195,204)" stroke-width="2.56"/>
<path d="M-199.20,-70 A40.71,70 0 0,0 -199.20,70" fill="none" stroke="rgb(172,181,190)" stroke-width="2.56"/>
<path d="M-197.54,-70 A40.71,70 0 0,0 -197.54,70" fill="none" stroke="rgb(157,167,176)" stroke-width="2.56"/>
<path d="M-195.88,-70 A40.71,70 0 0,0 -195.88,70" fill="none" stroke="rgb(137,147,157)" stroke-width="2.56"/>
<path d="M-194.23,-70 A40.71,70 0 0,0 -194.23,70" fill="none" stroke="rgb(112,121,131)" stroke-width="2.56"/>
<path d="M-192.57,-70 A40.71,70 0 0,0 -192.57,70" fill="none" stroke="rgb(87,95,105)" stroke-width="2.56"/>
<path d="M-190.91,-70 A40.71,70 0 0,0 -190.91,70" fill="none" stroke="rgb(62,69,77)" stroke-width="2.56"/>
<path d="M-189.25,-70 A40.71,70 0 0,0 -189.25,70" fill="none" stroke="rgb(89,95,104)" stroke-width="2.56"/>
<path d="M-187.59,-70 A40.71,70 0 0,0 -187.59,70" fill="none" stroke="rgb(156,164,173)" stroke-width="2.56"/>
<path d="M-185.94,-70 A40.71,70 0 0,0 -185.94,70" fill="none" stroke="rgb(184,191,200)" stroke-width="2.56"/>
<path d="M-184.28,-70 A40.71,70 0 0,0 -184.28,70" fill="none" stroke="rgb(206,213,220)" stroke-width="2.56"/>
<path d="M-182.62,-70 A40.71,70 0 0,0 -182.62,70" fill="none" stroke="rgb(213,220,227)" stroke-width="2.56"/>
<path d="M-180.96,-70 A40.71,70 0 0,0 -180.96,70" fill="none" stroke="rgb(221,227,233)" stroke-width="2.56"/>
<path d="M-179.30,-70 A40.71,70 0 0,0 -179.30,70" fill="none" stroke="rgb(215,221,228)" stroke-width="2.56"/>
<path d="M-177.65,-70 A40.71,70 0 0,0 -177.65,70" fill="none" stroke="rgb(207,214,222)" stroke-width="2.56"/>
<path d="M-175.99,-70 A40.71,70 0 0,0 -175.99,70" fill="none" stroke="rgb(200,208,215)" stroke-width="2.56"/>
<path d="M-174.33,-70 A40.71,70 0 0,0 -174.33,70" fill="none" stroke="rgb(187,195,204)" stroke-width="2.56"/>
<path d="M-172.67,-70 A40.71,70 0 0,0 -172.67,70" fill="none" stroke="rgb(172,181,190)" stroke-width="2.56"/>
<path d="M-171.01,-70 A40.71,70 0 0,0 -171.01,70" fill="none" stroke="rgb(157,167,176)" stroke-width="2.56"/>
<path d="M-169.35,-70 A40.71,70 0 0,0 -169.35,70" fill="none" stroke="rgb(137,147,157)" stroke-width="2.56"/>
<path d="M-167.70,-70 A40.71,70 0 0,0 -167.70,70" fill="none" stroke="rgb(112,121,131)" stroke-width="2.56"/>
<path d="M-166.04,-70 A40.71,70 0 0,0 -166.04,70" fill="none" stroke="rgb(87,95,105)" stroke-width="2.56"/>
<path d="M-164.38,-70 A40.71,70 0 0,0 -164.38,70" fill="none" stroke="rgb(62,69,77)" stroke-width="2.56"/>
<path d="M-162.72,-70 A40.71,70 0 0,0 -162.72,70" fill="none" stroke="rgb(89,95,104)" stroke-width="2.56"/>
<path d="M-161.06,-70 A40.71,70 0 0,0 -161.06,70" fill="none" stroke="rgb(156,164,173)" stroke-width="2.56"/>
<path d="M-159.41,-70 A40.71,70 0 0,0 -159.41,70" fill="none" stroke="rgb(184,191,200)" stroke-width="2.56"/>
<path d="M-157.75,-70 A40.71,70 0 0,0 -157.75,70" fill="none" stroke="rgb(206,213,220)" stroke-width="2.56"/>
<path d="M-156.09,-70 A40.71,70 0 0,0 -156.09,70" fill="none" stroke="rgb(213,220,227)" stroke-width="2.56"/>
<path d="M-154.43,-70 A40.71,70 0 0,0 -154.43,70" fill="none" stroke="rgb(221,227,233)" stroke-width="2.56"/>
<path d="M-152.77,-70 A40.71,70 0 0,0 -152.77,70" fill="none" stroke="rgb(215,221,228)" stroke-width="2.56"/>
<path d="M-151.12,-70 A40.71,70 0 0,0 -151.12,70" fill="none" stroke="rgb(207,214,222)" stroke-width="2.56"/>
<path d="M-149.46,-70 A40.71,70 0 0,0 -149.46,70" fill="none" stroke="rgb(200,208,215)" stroke-width="2.56"/>
<path d="M-147.80,-70 A40.71,70 0 0,0 -147.80,70" fill="none" stroke="rgb(187,195,204)" stroke-width="2.56"/>
<path d="M-146.14,-70 A40.71,70 0 0,0 -146.14,70" fill="none" stroke="rgb(172,181,190)" stroke-width="2.56"/>
<path d="M-144.48,-70 A40.71,70 0 0,0 -144.48,70" fill="none" stroke="rgb(157,167,176)" stroke-width="2.56"/>
<path d="M-142.83,-70 A40.71,70 0 0,0 -142.83,70" fill="none" stroke="rgb(137,147,157)" stroke-width="2.56"/>
<path d="M-141.17,-70 A40.71,70 0 0,0 -141.17,70" fill="none" stroke="rgb(112,121,131)" stroke-width="2.56"/>
<path d="M-139.51,-70 A40.71,70 0 0,0 -139.51,70" fill="none" stroke="rgb(87,95,105)" stroke-width="2.56"/>
<path d="M-137.85,-70 A40.71,70 0 0,0 -137.85,70" fill="none" stroke="rgb(62,69,77)" stroke-width="2.56"/>
<path d="M-136.19,-70 A40.71,70 0 0,0 -136.19,70" fill="none" stroke="rgb(89,95,104)" stroke-width="2.56"/>
<path d="M-134.54,-70 A40.71,70 0 0,0 -134.54,70" fill="none" stroke="rgb(156,164,173)" stroke-width="2.56"/>
<path d="M-132.88,-70 A40.71,70 0 0,0 -132.88,70" fill="none" stroke="rgb(184,191,200)" stroke-width="2.56"/>
<path d="M-131.22,-70 A40.71,70 0 0,0 -131.22,70" fill="none" stroke="rgb(206,213,220)" stroke-width="2.56"/>
<path d="M-129.56,-70 A40.71,70 0 0,0 -129.56,70" fill="none" stroke="rgb(213,220,227)" stroke-width="2.56"/>
<path d="M-127.90,-70 A40.71,70 0 0,0 -127.90,70" fill="none" stroke="rgb(221,227,233)" stroke-width="2.56"/>
<path d="M-126.25,-70 A40.71,70 0 0,0 -126.25,70" fill="none" stroke="rgb(215,221,228)" stroke-width="2.56"/>
<path d="M-124.59,-70 A40.71,70 0 0,0 -124.59,70" fill="none" stroke="rgb(207,214,222)" stroke-width="2.56"/>
<path d="M-122.93,-70 A40.71,70 0 0,0 -122.93,70" fill="none" stroke="rgb(200,208,215)" stroke-width="2.56"/>
<path d="M-121.27,-70 A40.71,70 0 0,0 -121.27,70" fill="none" stroke="rgb(187,195,204)" stroke-width="2.56"/>
<path d="M-119.61,-70 A40.71,70 0 0,0 -119.61,70" fill="none" stroke="rgb(172,181,190)" stroke-width="2.56"/>
<path d="M-117.95,-70 A40.71,70 0 0,0 -117.95,70" fill="none" stroke="rgb(157,167,176)" stroke-width="2.56"/>
<path d="M-116.30,-70 A40.71,70 0 0,0 -116.30,70" fill="none" stroke="rgb(137,147,157)" stroke-width="2.56"/>
<path d="M-114.64,-70 A40.71,70 0 0,0 -114.64,70" fill="none" stroke="rgb(112,121,131)" stroke-width="2.56"/>
<path d="M-112.98,-70 A40.71,70 0 0,0 -112.98,70" fill="none" stroke="rgb(87,95,105)" stroke-width="2.56"/>
<path d="M-111.32,-70 A40.71,70 0 0,0 -111.32,70" fill="none" stroke="rgb(62,69,77)" stroke-width="2.56"/>
<path d="M-109.66,-70 A40.71,70 0 0,0 -109.66,70" fill="none" stroke="rgb(89,95,104)" stroke-width="2.56"/>
<path d="M-108.01,-70 A40.71,70 0 0,0 -108.01,70" fill="none" stroke="rgb(156,164,173)" stroke-width="2.56"/>
<path d="M-106.35,-70 A40.71,70 0 0,0 -106.35,70" fill="none" stroke="rgb(184,191,200)" stroke-width="2.56"/>
<path d="M-104.69,-70 A40.71,70 0 0,0 -104.69,70" fill="none" stroke="rgb(206,213,220)" stroke-width="2.56"/>
<path d="M-103.03,-70 A40.71,70 0 0,0 -103.03,70" fill="none" stroke="rgb(213,220,227)" stroke-width="2.56"/>
<path d="M-101.37,-70 A40.71,70 0 0,0 -101.37,70" fill="none" stroke="rgb(221,227,233)" stroke-width="2.56"/>
<path d="M-99.72,-70 A40.71,70 0 0,0 -99.72,70" fill="none" stroke="rgb(215,221,228)" stroke-width="2.56"/>
<path d="M-98.06,-70 A40.71,70 0 0,0 -98.06,70" fill="none" stroke="rgb(207,214,222)" stroke-width="2.56"/>
<path d="M-96.40,-70 A40.71,70 0 0,0 -96.40,70" fill="none" stroke="rgb(200,208,215)" stroke-width="2.56"/>
<path d="M-94.74,-70 A40.71,70 0 0,0 -94.74,70" fill="none" stroke="rgb(187,195,204)" stroke-width="2.56"/>
<path d="M-93.08,-70 A40.71,70 0 0,0 -93.08,70" fill="none" stroke="rgb(172,181,190)" stroke-width="2.56"/>
<path d="M-91.43,-70 A40.71,70 0 0,0 -91.43,70" fill="none" stroke="rgb(157,167,176)" stroke-width="2.56"/>
<path d="M-89.77,-70 A40.71,70 0 0,0 -89.77,70" fill="none" stroke="rgb(137,147,157)" stroke-width="2.56"/>
<path d="M-88.11,-70 A40.71,70 0 0,0 -88.11,70" fill="none" stroke="rgb(112,121,131)" stroke-width="2.56"/>
<path d="M-86.45,-70 A40.71,70 0 0,0 -86.45,70" fill="none" stroke="rgb(87,95,105)" stroke-width="2.56"/>
<path d="M-84.79,-70 A40.71,70 0 0,0 -84.79,70" fill="none" stroke="rgb(62,69,77)" stroke-width="2.56"/>
<path d="M-83.14,-70 A40.71,70 0 0,0 -83.14,70" fill="none" stroke="rgb(89,95,104)" stroke-width="2.56"/>
<path d="M-81.48,-70 A40.71,70 0 0,0 -81.48,70" fill="none" stroke="rgb(156,164,173)" stroke-width="2.56"/>
<path d="M-79.82,-70 A40.71,70 0 0,0 -79.82,70" fill="none" stroke="rgb(184,191,200)" stroke-width="2.56"/>
<path d="M-78.16,-70 A40.71,70 0 0,0 -78.16,70" fill="none" stroke="rgb(206,213,220)" stroke-width="2.56"/>
<path d="M-76.50,-70 A40.71,70 0 0,0 -76.50,70" fill="none" stroke="rgb(213,220,227)" stroke-width="2.56"/>
<path d="M-74.85,-70 A40.71,70 0 0,0 -74.85,70" fill="none" stroke="rgb(221,227,233)" stroke-width="2.56"/>
<path d="M-73.19,-70 A40.71,70 0 0,0 -73.19,70" fill="none" stroke="rgb(215,221,228)" stroke-width="2.56"/>
<path d="M-71.53,-70 A40.71,70 0 0,0 -71.53,70" fill="none" stroke="rgb(207,214,222)" stroke-width="2.56"/>
<path d="M-69.87,-70 A40.71,70 0 0,0 -69.87,70" fill="none" stroke="rgb(200,208,215)" stroke-width="2.56"/>
<path d="M-68.21,-70 A40.71,70 0 0,0 -68.21,70" fill="none" stroke="rgb(187,195,204)" stroke-width="2.56"/>
<path d="M-66.55,-70 A40.71,70 0 0,0 -66.55,70" fill="none" stroke="rgb(172,181,190)" stroke-width="2.56"/>
<path d="M-64.90,-70 A40.71,70 0 0,0 -64.90,70" fill="none" stroke="rgb(157,167,176)" stroke-width="2.56"/>
<path d="M-63.24,-70 A40.71,70 0 0,0 -63.24,70" fill="none" stroke="rgb(137,147,157)" stroke-width="2.56"/>
<path d="M-61.58,-70 A40.71,70 0 0,0 -61.58,70" fill="none" stroke="rgb(112,121,131)" stroke-width="2.56"/>
<path d="M-59.92,-70 A40.71,70 0 0,0 -59.92,70" fill="none" stroke="rgb(87,95,105)" stroke-width="2.56"/>
<path d="M-58.26,-70 A40.71,70 0 0,0 -58.26,70" fill="none" stroke="rgb(62,69,77)" stroke-width="2.56"/>
<path d="M-56.61,-70 A40.71,70 0 0,0 -56.61,70" fill="none" stroke="rgb(89,95,104)" stroke-width="2.56"/>
<path d="M-54.95,-70 A40.71,70 0 0,0 -54.95,70" fill="none" stroke="rgb(156,164,173)" stroke-width="2.56"/>
<path d="M-53.29,-70 A40.71,70 0 0,0 -53.29,70" fill="none" stroke="rgb(184,191,200)" stroke-width="2.56"/>
<path d="M-51.63,-70 A40.71,70 0 0,0 -51.63,70" fill="none" stroke="rgb(206,213,220)" stroke-width="2.56"/>
<path d="M-49.97,-70 A40.71,70 0 0,0 -49.97,70" fill="none" stroke="rgb(213,220,227)" stroke-width="2.56"/>
<path d="M-48.32,-70 A40.71,70 0 0,0 -48.32,70" fill="none" stroke="rgb(221,227,233)" stroke-width="2.56"/>
<path d="M-46.66,-70 A40.71,70 0 0,0 -46.66,70" fill="none" stroke="rgb(215,221,228)" stroke-width="2.56"/>
<path d="M-45.00,-70 A40.71,70 0 0,0 -45.00,70" fill="none" stroke="rgb(207,214,222)" stroke-width="2.56"/>
<path d="M-43.34,-70 A40.71,70 0 0,0 -43.34,70" fill="none" stroke="rgb(200,208,215)" stroke-width="2.56"/>
<path d="M-41.68,-70 A40.71,70 0 0,0 -41.68,70" fill="none" stroke="rgb(187,195,204)" stroke-width="2.56"/>
<path d="M-40.03,-70 A40.71,70 0 0,0 -40.03,70" fill="none" stroke="rgb(172,181,190)" stroke-width="2.56"/>
<path d="M-38.37,-70 A40.71,70 0 0,0 -38.37,70" fill="none" stroke="rgb(157,167,176)" stroke-width="2.56"/>
<path d="M-36.71,-70 A40.71,70 0 0,0 -36.71,70" fill="none" stroke="rgb(137,147,157)" stroke-width="2.56"/>
<path d="M-35.05,-70 A40.71,70 0 0,0 -35.05,70" fill="none" stroke="rgb(112,121,131)" stroke-width="2.56"/>
<path d="M-33.39,-70 A40.71,70 0 0,0 -33.39,70" fill="none" stroke="rgb(87,95,105)" stroke-width="2.56"/>
<path d="M-31.74,-70 A40.71,70 0 0,0 -31.74,70" fill="none" stroke="rgb(62,69,77)" stroke-width="2.56"/>
<path d="M-30.08,-70 A40.71,70 0 0,0 -30.08,70" fill="none" stroke="rgb(89,95,104)" stroke-width="2.56"/>
<path d="M-28.42,-70 A40.71,70 0 0,0 -28.42,70" fill="none" stroke="rgb(156,164,173)" stroke-width="2.56"/>
<path d="M-26.76,-70 A40.71,70 0 0,0 -26.76,70" fill="none" stroke="rgb(184,191,200)" stroke-width="2.56"/>
<path d="M-25.10,-70 A40.71,70 0 0,0 -25.10,70" fill="none" stroke="rgb(206,213,220)" stroke-width="2.56"/>
<path d="M-23.45,-70 A40.71,70 0 0,0 -23.45,70" fill="none" stroke="rgb(213,220,227)" stroke-width="2.56"/>
<path d="M-21.79,-70 A40.71,70 0 0,0 -21.79,70" fill="none" stroke="rgb(221,227,233)" stroke-width="2.56"/>
<path d="M-20.13,-70 A40.71,70 0 0,0 -20.13,70" fill="none" stroke="rgb(215,221,228)" stroke-width="2.56"/>
<path d="M-18.47,-70 A40.71,70 0 0,0 -18.47,70" fill="none" stroke="rgb(207,214,222)" stroke-width="2.56"/>
<path d="M-16.81,-70 A40.71,70 0 0,0 -16.81,70" fill="none" stroke="rgb(200,208,215)" stroke-width="2.56"/>
<path d="M-15.15,-70 A40.71,70 0 0,0 -15.15,70" fill="none" stroke="rgb(187,195,204)" stroke-width="2.56"/>
<path d="M-13.50,-70 A40.71,70 0 0,0 -13.50,70" fill="none" stroke="rgb(172,181,190)" stroke-width="2.56"/>
<path d="M-11.84,-70 A40.71,70 0 0,0 -11.84,70" fill="none" stroke="rgb(157,167,176)" stroke-width="2.56"/>
<path d="M-10.18,-70 A40.71,70 0 0,0 -10.18,70" fill="none" stroke="rgb(137,147,157)" stroke-width="2.56"/>
<path d="M-8.52,-70 A40.71,70 0 0,0 -8.52,70" fill="none" stroke="rgb(112,121,131)" stroke-width="2.56"/>
<path d="M-6.86,-70 A40.71,70 0 0,0 -6.86,70" fill="none" stroke="rgb(87,95,105)" stroke-width="2.56"/>
<path d="M-5.21,-70 A40.71,70 0 0,0 -5.21,70" fill="none" stroke="rgb(62,69,77)" stroke-width="2.56"/>
<path d="M-3.55,-70 A40.71,70 0 0,0 -3.55,70" fill="none" stroke="rgb(89,95,104)" stroke-width="2.56"/>
<path d="M-1.89,-70 A40.71,70 0 0,0 -1.89,70" fill="none" stroke="rgb(156,164,173)" stroke-width="2.56"/>
<path d="M-0.23,-70 A40.71,70 0 0,0 -0.23,70" fill="none" stroke="rgb(184,191,200)" stroke-width="2.56"/>
<path d="M1.43,-70 A40.71,70 0 0,0 1.43,70" fill="none" stroke="rgb(206,213,220)" stroke-width="2.56"/>
<path d="M3.08,-70 A40.71,70 0 0,0 3.08,70" fill="none" stroke="rgb(213,220,227)" stroke-width="2.56"/>
<path d="M4.74,-70 A40.71,70 0 0,0 4.74,70" fill="none" stroke="rgb(221,227,233)" stroke-width="2.56"/>
<path d="M6.40,-70 A40.71,70 0 0,0 6.40,70" fill="none" stroke="rgb(215,221,228)" stroke-width="2.56"/>
<path d="M8.06,-70 A40.71,70 0 0,0 8.06,70" fill="none" stroke="rgb(207,214,222)" stroke-width="2.56"/>
<path d="M9.72,-70 A40.71,70 0 0,0 9.72,70" fill="none" stroke="rgb(200,208,215)" stroke-width="2.56"/>
<path d="M11.37,-70 A40.71,70 0 0,0 11.37,70" fill="none" stroke="rgb(187,195,204)" stroke-width="2.56"/>
<path d="M13.03,-70 A40.71,70 0 0,0 13.03,70" fill="none" stroke="rgb(172,181,190)" stroke-width="2.56"/>
<path d="M14.69,-70 A40.71,70 0 0,0 14.69,70" fill="none" stroke="rgb(157,167,176)" stroke-width="2.56"/>
<path d="M16.35,-70 A40.71,70 0 0,0 16.35,70" fill="none" stroke="rgb(137,147,157)" stroke-width="2.56"/>
<path d="M18.01,-70 A40.71,70 0 0,0 18.01,70" fill="none" stroke="rgb(112,121,131)" stroke-width="2.56"/>
<path d="M19.66,-70 A40.71,70 0 0,0 19.66,70" fill="none" stroke="rgb(87,95,105)" stroke-width="2.56"/>
<path d="M21.32,-70 A40.71,70 0 0,0 21.32,70" fill="none" stroke="rgb(62,69,77)" stroke-width="2.56"/>
<path d="M22.98,-70 A40.71,70 0 0,0 22.98,70" fill="none" stroke="rgb(89,95,104)" stroke-width="2.56"/>
<path d="M24.64,-70 A40.71,70 0 0,0 24.64,70" fill="none" stroke="rgb(156,164,173)" stroke-width="2.56"/>
<path d="M26.30,-70 A40.71,70 0 0,0 26.30,70" fill="none" stroke="rgb(184,191,200)" stroke-width="2.56"/>
<path d="M27.95,-70 A40.71,70 0 0,0 27.95,70" fill="none" stroke="rgb(206,213,220)" stroke-width="2.56"/>
<path d="M29.61,-70 A40.71,70 0 0,0 29.61,70" fill="none" stroke="rgb(213,220,227)" stroke-width="2.56"/>
<path d="M31.27,-70 A40.71,70 0 0,0 31.27,70" fill="none" stroke="rgb(221,227,233)" stroke-width="2.56"/>
<path d="M32.93,-70 A40.71,70 0 0,0 32.93,70" fill="none" stroke="rgb(215,221,228)" stroke-width="2.56"/>
<path d="M34.59,-70 A40.71,70 0 0,0 34.59,70" fill="none" stroke="rgb(207,214,222)" stroke-width="2.56"/>
<path d="M36.25,-70 A40.71,70 0 0,0 36.25,70" fill="none" stroke="rgb(200,208,215)" stroke-width="2.56"/>
<path d="M37.90,-70 A40.71,70 0 0,0 37.90,70" fill="none" stroke="rgb(187,195,204)" stroke-width="2.56"/>
<path d="M39.56,-70 A40.71,70 0 0,0 39.56,70" fill="none" stroke="rgb(172,181,190)" stroke-width="2.56"/>
<path d="M41.22,-70 A40.71,70 0 0,0 41.22,70" fill="none" stroke="rgb(157,167,176)" stroke-width="2.56"/>
<path d="M42.88,-70 A40.71,70 0 0,0 42.88,70" fill="none" stroke="rgb(137,147,157)" stroke-width="2.56"/>
<rect x="-420" y="-70" width="420" height="140" fill="url(#isovert)" style="mix-blend-mode:multiply"/>
</g>
<line x1="-347.00" y1="-69" x2="0" y2="-69" stroke="#0a0a0a" stroke-width="1.5"/>
<line x1="-347.00" y1="69" x2="0" y2="69" stroke="#0a0a0a" stroke-width="1.5"/>
<ellipse cx="0" cy="0" rx="40.71" ry="69" fill="#d0d5da"/>
<ellipse cx="1.8" cy="0" rx="39.91" ry="67.6" fill="#282828" stroke="#0a0a0a" stroke-width="1.4"/>
</g>
</svg></body></html>
